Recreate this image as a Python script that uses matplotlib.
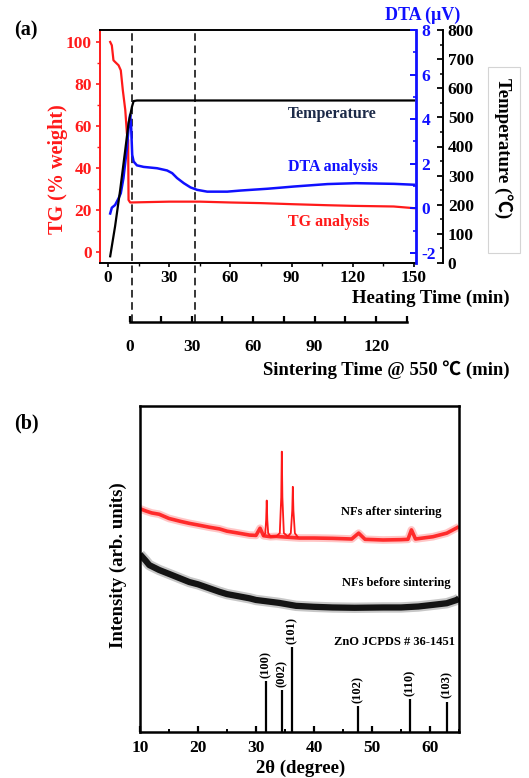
import matplotlib
matplotlib.use("Agg")
import matplotlib.pyplot as plt
from matplotlib.patches import Rectangle
from matplotlib.ticker import MultipleLocator

plt.rcParams['font.family'] = ['Liberation Serif', 'Noto Sans CJK SC', 'DejaVu Sans']
plt.rcParams['font.weight'] = 'bold'

W, H = 529, 778

# (a) thermal analysis vs heating time (min)
tg_t = [1.0, 1.8, 2.6, 3.4, 5.1, 6.2, 7.2, 8.4, 9.2, 9.8, 10.0, 10.8, 20, 30, 45, 60, 75, 90, 107.6, 120, 140, 150]
tg_w = [100, 98.4, 91.3, 90.5, 88.9, 86.5, 77, 67.6, 56.5, 53.3, 24.8, 23.6, 23.8, 24, 24, 23.6, 23.3, 22.8, 22.3, 22.0, 21.7, 20.9]

dta_t = [1.0, 1.8, 3.4, 5.1, 6.2, 7.5, 9.2, 10.3, 10.8, 11.3, 11.8, 12.5, 14.1, 17.4, 24.0, 28.9,
         31.4, 33.8, 37.1, 40.4, 43.7, 48.6, 58.4, 65.0, 71.5, 78.1, 84.7, 91.1, 107.6, 121.5, 140.2, 150]
dta_v = [-0.23, 0.03, 0.15, 0.45, 0.68, 1.36, 2.7, 3.9, 4.2, 3.6, 2.4, 2.1, 1.93, 1.86, 1.8, 1.7,
         1.58, 1.36, 1.13, 0.94, 0.83, 0.75, 0.75, 0.8, 0.84, 0.88, 0.93, 0.98, 1.09, 1.13, 1.1, 1.06]

temp_t = [1.0, 3.4, 5.9, 8.4, 10.0, 11.7, 12.5, 14.1, 150]
temp_c = [23, 126, 251, 389, 480, 537, 556, 558, 558]

sinter_marks = [11.7, 42.8]          # heating time where sintering 0 / 30 min
sinter_ticks = [0, 30, 60, 90, 120]

# (b) XRD
red_x = [10, 11, 12, 13.3, 15, 17, 18.5, 20, 22, 23.7, 25, 27, 28.9, 30, 30.7, 31.3, 32.5, 33.5, 35,
         37.5, 40, 43.2, 46.5, 47.7, 48.8, 51.9, 55, 56.2, 56.8, 57.5, 60.5, 62.9, 64.6, 65]
red_y = [68.5, 67.8, 67.2, 66.8, 65.5, 64.6, 64, 63.5, 62.8, 62.3, 61.6, 61, 60.4, 60.3, 62.5, 60.2, 59.9, 60, 59.8,
         59.5, 59.5, 59.4, 59.2, 61, 59.1, 58.9, 59, 59.1, 62, 59.2, 59.9, 61, 62.6, 63]
peak_x = [31.3, 31.6, 31.75, 31.85, 31.95, 32.1, 32.5, 33.5, 34.1, 34.35, 34.45, 34.55, 34.8,
          35.5, 36.0, 36.25, 36.35, 36.45, 36.7, 37.2]
peak_y = [60.2, 61, 65, 71, 65, 61, 60, 60, 61, 72, 86, 72, 61,
          60, 61, 68, 75.2, 68, 61, 59.8]

blk_x = [10, 11, 11.6, 13.3, 15, 18.5, 20, 23.7, 25, 28.9, 30, 34, 36.9, 40, 43.2, 47, 51.9, 55, 58, 60.5, 62.9, 64.6, 65]
blk_y = [54.5, 52.5, 51.2, 49.7, 48.5, 46, 45.3, 43, 42.3, 41, 40.5, 39.6, 38.7, 38.4, 38.2, 38.1, 38.2, 38.2,
         38.5, 39, 39.5, 40.5, 41]

hkl = ['(100)', '(002)', '(101)', '(102)', '(110)', '(103)']
hkl_pos = [31.77, 34.42, 36.25, 47.54, 56.6, 62.86]
hkl_int = [15.6, 12.9, 26.0, 8.0, 10.1, 9.3]

red = '#ff1a1a'
blue = '#1010ff'

fig = plt.figure(figsize=(W / 100, H / 100), dpi=100)


def fx(x):
    return x / W


def fy(y):
    return 1 - y / H


# ---------------- panel (a) ----------------
ax1 = fig.add_axes([fx(100), fy(263), 316 / W, 233 / H])
ax2 = ax1.twinx()
ax3 = ax1.twinx()

ax1.plot(tg_t, tg_w, color=red, lw=1.6)
ax2.plot(dta_t, dta_v, color=blue, lw=1.8)
ax3.plot(temp_t, temp_c, color='black', lw=1.6)

ax1.set_xlim(-4, 151)
ax1.set_ylim(-5.2, 105.7)
ax2.set_ylim(-2.45, 8)
ax3.set_ylim(0, 800)

for s in ['left', 'right', 'top', 'bottom']:
    ax1.spines[s].set_linewidth(1.4)
ax1.spines['left'].set_color(red)
ax1.spines['right'].set_visible(False)
for s in ['left', 'top', 'bottom']:
    ax2.spines[s].set_visible(False)
    ax3.spines[s].set_visible(False)
ax2.spines['right'].set_color(blue)
ax2.spines['right'].set_linewidth(2.0)
ax3.spines['right'].set_position(('outward', 19.4))
ax3.spines['right'].set_linewidth(1.4)

ax1.xaxis.set_major_locator(MultipleLocator(30))
ax1.xaxis.set_minor_locator(MultipleLocator(15))
ax1.yaxis.set_major_locator(MultipleLocator(20))
ax1.yaxis.set_minor_locator(MultipleLocator(10))
ax1.tick_params(axis='x', which='major', direction='out', length=3, width=1.2, pad=2, labelsize=12.5)
ax1.tick_params(axis='x', which='minor', direction='out', length=2, width=1.0)
ax1.tick_params(axis='y', which='major', direction='out', length=3, width=1.2, pad=3,
                colors=red, labelsize=12.5)
ax1.tick_params(axis='y', which='minor', direction='out', length=2, width=1.0, colors=red)

ax2.set_yticks([-2, 0, 2, 4, 6, 8])
ax2.set_yticklabels(['-2', '0', '2', '4', '6', '8'])
ax2.yaxis.set_minor_locator(MultipleLocator(1))
ax2.tick_params(axis='y', which='major', direction='in', length=4, width=1.4, pad=4,
                colors=blue, labelsize=12.5)
ax2.tick_params(axis='y', which='minor', direction='in', length=2.5, width=1.2, colors=blue)

ax3.yaxis.set_major_locator(MultipleLocator(100))
ax3.yaxis.set_minor_locator(MultipleLocator(50))
ax3.tick_params(axis='y', which='major', direction='in', length=4, width=1.3, pad=3.5, labelsize=12.5)
ax3.tick_params(axis='y', which='minor', direction='in', length=2.5, width=1.1)

for xm in sinter_marks:
    ax1.axvline(xm, ymin=-0.253, ymax=1, color='black', lw=1.1, ls=(0, (5, 3)), clip_on=False)

ax1.text(88, 65.7, 'Temperature', color='#1c2a48', fontsize=11.5, ha='left', va='center')
ax1.text(88, 40.5, 'DTA analysis', color=blue, fontsize=11.5, ha='left', va='center')
ax1.text(88, 14.3, 'TG analysis', color=red, fontsize=11.5, ha='left', va='center')

fig.text(fx(58), fy(169), 'TG (% weight)', color=red, fontsize=14.5, rotation=90,
         ha='center', va='center')
fig.text(fx(423), fy(15), 'DTA (μV)', color=blue, fontsize=13, ha='center', va='center')
fig.patches.append(Rectangle((fx(488), fy(253)), 32 / W, 186 / H, transform=fig.transFigure,
                             fill=False, edgecolor='#d4d4d4', lw=0.8))
fig.text(fx(503), fy(148), 'Temperature (℃)', fontsize=13.5, rotation=270,
         ha='center', va='center')
fig.text(fx(510), fy(298), 'Heating Time (min)', fontsize=13.5, ha='right', va='center')
fig.text(fx(14), fy(30), '(a)', fontsize=14.5, ha='left', va='center')

# sintering time axis
axs = fig.add_axes([fx(130), fy(322), 277 / W, 0.02])
axs.set_xlim(0, 135)
axs.set_ylim(0, 1)
for s in ['left', 'right', 'top']:
    axs.spines[s].set_visible(False)
axs.spines['bottom'].set_linewidth(1.8)
axs.patch.set_visible(False)
axs.set_yticks([])
axs.set_xticks(sinter_ticks)
axs.xaxis.set_minor_locator(MultipleLocator(15))
axs.tick_params(axis='x', which='major', direction='in', length=4, width=1.6, pad=12, labelsize=12.5)
axs.tick_params(axis='x', which='minor', direction='in', length=4, width=1.6)
fig.text(fx(510), fy(370), 'Sintering Time @ 550 ℃ (min)', fontsize=13.5, ha='right', va='center')

# ---------------- panel (b) ----------------
axb = fig.add_axes([fx(140), fy(732), 319 / W, 326 / H])
axb.set_xlim(10, 65)
axb.set_ylim(0, 100)

axb.plot(blk_x, blk_y, color='black', lw=7.5, alpha=0.22, solid_capstyle='butt')
axb.plot(blk_x, blk_y, color='black', lw=4.5, alpha=0.9, solid_capstyle='butt')
axb.plot(red_x, red_y, color=red, lw=5.5, alpha=0.25, solid_capstyle='butt')
axb.plot(red_x, red_y, color=red, lw=2.6, alpha=0.9, solid_capstyle='butt')
axb.plot(peak_x, peak_y, color=red, lw=1.3)

axb.vlines(hkl_pos, 0, hkl_int, color='black', lw=1.6)
for p, h, lab in zip(hkl_pos, hkl_int, hkl):
    axb.text(p, h + 1.0, lab, rotation=90, fontsize=9, ha='center', va='bottom')

axb.text(64.3, 27.6, 'ZnO JCPDS # 36-1451', fontsize=9, ha='right', va='center')
axb.text(61.9, 67.5, 'NFs after sintering', fontsize=9, ha='right', va='center')
axb.text(63.6, 45.7, 'NFs before sintering', fontsize=9, ha='right', va='center')

for s in ['left', 'right', 'top', 'bottom']:
    axb.spines[s].set_linewidth(1.8)
axb.set_yticks([])
axb.xaxis.set_major_locator(MultipleLocator(10))
axb.xaxis.set_minor_locator(MultipleLocator(5))
axb.tick_params(axis='x', which='major', direction='in', length=4, width=1.6, pad=6, labelsize=12.5)
axb.tick_params(axis='x', which='minor', direction='in', length=2.5, width=1.4)

fig.text(fx(301), fy(768), '2θ (degree)', fontsize=13.5, ha='center', va='center')
fig.text(fx(118), fy(565), 'Intensity (arb. units)', fontsize=13.5, rotation=90,
         ha='center', va='center')
fig.text(fx(14), fy(423), '(b)', fontsize=14.5, ha='left', va='center')

fig.savefig('out.png', dpi=100)
